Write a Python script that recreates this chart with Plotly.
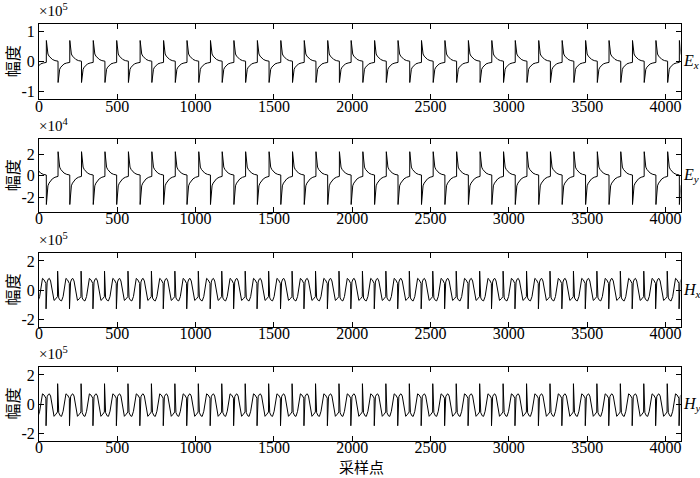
import numpy as np
import plotly.graph_objects as go
from plotly.subplots import make_subplots

n_samples = 4096
period = 149.7          # 一个周期的采样点数 (从图上量得)
e_first = 47            # 第一个尖峰位置 (E 分量)
h_first = 44            # 第一个尖峰位置 (H 分量)

# 一个周期内的波形: 偏移 (采样点) 与幅值
ex_off = [0, 3, 6, 10, 17, 27, 38, 55, 74.5, 74.8, 78, 81, 85, 92, 102, 113, 130, 149.4]
ex_val = [0.71, 0.48, 0.35, 0.26, 0.19, 0.12, 0.08, 0.04, 0.02,
          -0.69, -0.47, -0.34, -0.25, -0.18, -0.11, -0.07, -0.04, -0.02]   # x10^5
ey_val = [-2.7, -1.8, -1.3, -0.95, -0.7, -0.45, -0.3, -0.15, -0.07,
          2.24, 1.5, 1.1, 0.8, 0.58, 0.37, 0.24, 0.12, 0.06]               # x10^4

h_off = [0, 1, 3, 8, 15, 22, 30, 40, 52, 64, 74, 75, 77, 82, 92, 100, 110, 118, 128, 138, 146]
hx_val = [0.45, -1.3, 0.2, 0.55, 0.75, 0.8, 0.62, 0.05, -0.72, -0.6, -0.45,
          1.3, -0.2, -0.55, -0.72, -0.75, -0.45, 0.0, 0.8, 0.7, 0.5]        # x10^5
hy_val = [0.4, -1.5, 0.15, 0.5, 0.65, 0.7, 0.55, 0.0, -0.85, -0.7, -0.55,
          1.4, -0.25, -0.6, -0.82, -0.85, -0.5, -0.05, 0.7, 0.62, 0.45]     # x10^5

names = [("E", "x"), ("E", "y"), ("H", "x"), ("H", "y")]
exps = ["5", "4", "5", "5"]
yticks = [[-1, 0, 1], [-2, 0, 2], [-2, 0, 2], [-2, 0, 2]]
yranges = [[-1.25, 1.25], [-3.4, 3.4], [-2.55, 2.55], [-2.55, 2.55]]
xticks = list(range(0, 4001, 500))


def tile(first, off, val):
    xs, ys = [], []
    k = -1
    while first + k * period < n_samples:
        start = first + k * period
        xs += [start + o for o in off]
        ys += val
        k += 1
    return xs, ys


series = [tile(e_first, ex_off, ex_val), tile(e_first, ex_off, ey_val),
          tile(h_first, h_off, hx_val), tile(h_first, h_off, hy_val)]

# 面板像素位置 (上, 下)
panels = [(24.3, 99.3), (139.3, 212), (253, 327), (367, 441)]
W, H = 700, 478

fig = make_subplots(rows=4, cols=1)
serif = "Liberation Serif, Times New Roman, serif"
cjk = "Noto Sans CJK SC"

for i, (xs, ys) in enumerate(series):
    fig.add_trace(go.Scatter(x=xs, y=ys, mode="lines",
                             line=dict(color="black", width=1),
                             showlegend=False), row=i + 1, col=1)
    top, bot = panels[i]
    ax = dict(showline=True, linecolor="black", linewidth=1, mirror="ticks",
              ticks="inside", ticklen=5, tickcolor="black",
              showgrid=False, zeroline=False, automargin=False,
              tickfont=dict(family=serif, size=16, color="black"))
    fig.update_xaxes(ax, range=[0, n_samples], tickvals=xticks,
                     ticktext=[str(t) for t in xticks], ticklabelstandoff=-8,
                     domain=[39 / W, 680.5 / W], row=i + 1, col=1)
    fig.update_yaxes(ax, range=yranges[i], tickvals=yticks[i],
                     ticktext=[str(t) for t in yticks[i]],
                     domain=[1 - bot / H, 1 - top / H], row=i + 1, col=1)

    mid = 1 - (top + bot) / 2 / H
    fig.add_annotation(text="幅度", xref="paper", yref="paper", x=11.5 / W, y=mid,
                       xanchor="center", yanchor="middle", textangle=-90,
                       showarrow=False, font=dict(family=cjk, size=16, color="black"))
    fig.add_annotation(text="×10<sup>" + exps[i] + "</sup>", xref="paper", yref="paper",
                       x=37 / W, y=1 - (top - 3) / H, xanchor="left", yanchor="bottom",
                       showarrow=False, font=dict(family=serif, size=15, color="black"))
    comp, sub = names[i]
    fig.add_annotation(text="<i>" + comp + "</i><sub><i>" + sub + "</i></sub>",
                       xref="paper", yref="paper", x=681 / W, y=mid,
                       xanchor="left", yanchor="middle", showarrow=False,
                       font=dict(family=serif, size=16, color="black"))

fig.add_annotation(text="采样点", xref="paper", yref="paper", x=361 / W, y=1 - 466 / H,
                   xanchor="center", yanchor="middle", showarrow=False,
                   font=dict(family=cjk, size=15, color="black"))

fig.update_layout(width=W, height=H, margin=dict(l=0, r=0, t=0, b=0),
                  plot_bgcolor="white", paper_bgcolor="white")

fig.write_html("out.html", config={"displayModeBar": False},
               post_script="document.body.style.margin='0';")
